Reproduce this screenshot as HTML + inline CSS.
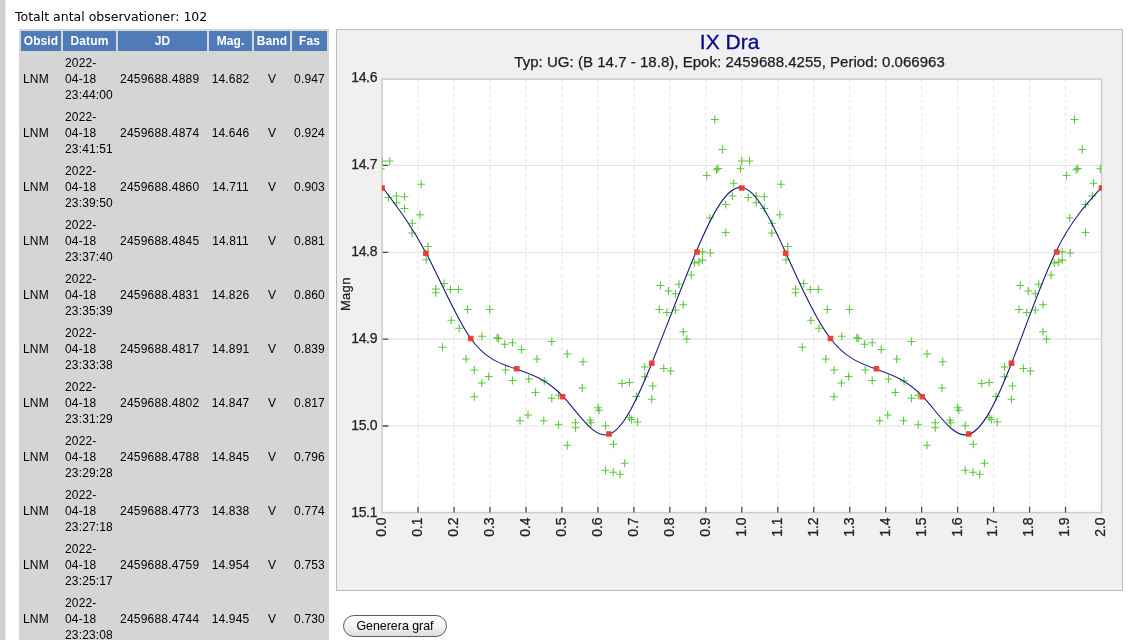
<!DOCTYPE html>
<html lang="sv">
<head>
<meta charset="utf-8">
<title>IX Dra</title>
<style>
html,body{margin:0;padding:0;background:#fff;}
body{width:1136px;height:640px;overflow:hidden;position:relative;font-family:"Liberation Sans",Arial,sans-serif;}
#strip{position:absolute;left:0;top:0;width:6px;height:640px;background:linear-gradient(to right,#d0d0d0 0,#d0d0d0 5px,#e8e8e8 5px,#e8e8e8 6px);}
#tot{position:absolute;left:15px;top:9px;font-family:"DejaVu Sans",Verdana,sans-serif;font-size:12.5px;line-height:15px;color:#000;white-space:nowrap;}
#obs{position:absolute;left:19px;top:29px;width:310px;border-collapse:separate;border-spacing:2px;background:#d5d5d5;table-layout:fixed;font-size:12px;color:#000;}
#obs th{background:#4f7cb8;color:#fff;font-weight:bold;font-size:12px;letter-spacing:0.1px;height:20px;padding:0;line-height:20px;text-align:center;white-space:nowrap;overflow:hidden;}
#obs td{letter-spacing:0.15px;padding:2px 2px 2px 2px;line-height:16px;height:48px;vertical-align:middle;white-space:nowrap;}
#obs td.c{text-align:center;padding:2px 0;}
#obs td.j{letter-spacing:0.22px;}
#chart{position:absolute;left:0;top:0;}
#btn{position:absolute;left:343px;top:615px;width:104px;height:22px;box-sizing:border-box;border:1px solid #5e5e5e;border-radius:11px;background:linear-gradient(#ffffff 0%,#f4f4f4 50%,#dddddd 100%);font-family:"Liberation Sans",Arial,sans-serif;font-size:12.4px;line-height:21px;text-align:center;color:#000;padding:0;margin:0;}
</style>
</head>
<body>
<div id="strip"></div>
<div id="tot">Totalt antal observationer: 102</div>
<table id="obs">
<colgroup><col style="width:40px"><col style="width:53px"><col style="width:89px"><col style="width:43px"><col style="width:36px"><col style="width:35px"></colgroup>
<tr><th>Obsid</th><th>Datum</th><th>JD</th><th>Mag.</th><th>Band</th><th>Fas</th></tr>
<tr><td>LNM</td><td class="d">2022-<br>04-18<br>23:44:00</td><td class="j">2459688.4889</td><td class="c">14.682</td><td class="c">V</td><td class="c">0.947</td></tr>
<tr><td>LNM</td><td class="d">2022-<br>04-18<br>23:41:51</td><td class="j">2459688.4874</td><td class="c">14.646</td><td class="c">V</td><td class="c">0.924</td></tr>
<tr><td>LNM</td><td class="d">2022-<br>04-18<br>23:39:50</td><td class="j">2459688.4860</td><td class="c">14.711</td><td class="c">V</td><td class="c">0.903</td></tr>
<tr><td>LNM</td><td class="d">2022-<br>04-18<br>23:37:40</td><td class="j">2459688.4845</td><td class="c">14.811</td><td class="c">V</td><td class="c">0.881</td></tr>
<tr><td>LNM</td><td class="d">2022-<br>04-18<br>23:35:39</td><td class="j">2459688.4831</td><td class="c">14.826</td><td class="c">V</td><td class="c">0.860</td></tr>
<tr><td>LNM</td><td class="d">2022-<br>04-18<br>23:33:38</td><td class="j">2459688.4817</td><td class="c">14.891</td><td class="c">V</td><td class="c">0.839</td></tr>
<tr><td>LNM</td><td class="d">2022-<br>04-18<br>23:31:29</td><td class="j">2459688.4802</td><td class="c">14.847</td><td class="c">V</td><td class="c">0.817</td></tr>
<tr><td>LNM</td><td class="d">2022-<br>04-18<br>23:29:28</td><td class="j">2459688.4788</td><td class="c">14.845</td><td class="c">V</td><td class="c">0.796</td></tr>
<tr><td>LNM</td><td class="d">2022-<br>04-18<br>23:27:18</td><td class="j">2459688.4773</td><td class="c">14.838</td><td class="c">V</td><td class="c">0.774</td></tr>
<tr><td>LNM</td><td class="d">2022-<br>04-18<br>23:25:17</td><td class="j">2459688.4759</td><td class="c">14.954</td><td class="c">V</td><td class="c">0.753</td></tr>
<tr><td>LNM</td><td class="d">2022-<br>04-18<br>23:23:08</td><td class="j">2459688.4744</td><td class="c">14.945</td><td class="c">V</td><td class="c">0.730</td></tr>
<tr><td>LNM</td><td class="d">2022-<br>04-18<br>23:21:07</td><td class="j">2459688.4730</td><td class="c">14.903</td><td class="c">V</td><td class="c">0.709</td></tr>
<tr><td>LNM</td><td class="d">2022-<br>04-18<br>23:19:06</td><td class="j">2459688.4716</td><td class="c">14.972</td><td class="c">V</td><td class="c">0.688</td></tr>
</table>
<svg id="chart" width="1136" height="640" viewBox="0 0 1136 640" font-family="Liberation Sans, Arial, sans-serif">
<rect x="336.5" y="29.5" width="786" height="561" fill="#f0f0f0" stroke="#bcbcbc"/>
<rect x="382.1" y="79.1" width="719.4" height="433.5" fill="#fff"/>
<path d="M418.07 79.1V512.6M454.04 79.1V512.6M490.01 79.1V512.6M525.98 79.1V512.6M561.95 79.1V512.6M597.92 79.1V512.6M633.89 79.1V512.6M669.86 79.1V512.6M705.83 79.1V512.6M741.8 79.1V512.6M777.77 79.1V512.6M813.74 79.1V512.6M849.71 79.1V512.6M885.68 79.1V512.6M921.65 79.1V512.6M957.62 79.1V512.6M993.59 79.1V512.6M1029.56 79.1V512.6M1065.53 79.1V512.6" stroke="#e7e7e7" stroke-width="1.2" stroke-dasharray="3.9 2.8" fill="none"/>
<path d="M382.1 165.45H1101.5M382.1 252.3H1101.5M382.1 339.15H1101.5M382.1 426H1101.5" stroke="#e2e2e2" stroke-width="1.1" fill="none"/>
<rect x="382.1" y="79.1" width="719.4" height="433.5" fill="none" stroke="#cbcbcb" stroke-width="1.5"/>
<path d="M382.6 165.45h5.7M382.6 252.3h5.7M382.6 339.15h5.7M382.6 426h5.7M418.07 506.7V512.6M454.04 506.7V512.6M490.01 506.7V512.6M525.98 506.7V512.6M561.95 506.7V512.6M597.92 506.7V512.6M633.89 506.7V512.6M669.86 506.7V512.6M705.83 506.7V512.6M741.8 506.7V512.6M777.77 506.7V512.6M813.74 506.7V512.6M849.71 506.7V512.6M885.68 506.7V512.6M921.65 506.7V512.6M957.62 506.7V512.6M993.59 506.7V512.6M1029.56 506.7V512.6M1065.53 506.7V512.6" stroke="#4c4c4c" stroke-width="1.3" fill="none"/>
<clipPath id="cp"><rect x="381.8" y="79.1" width="720" height="433.5"/></clipPath>
<g clip-path="url(#cp)">
<path d="M385.85 161h7.8M389.75 157.1v7.8M745.6 161h7.8M749.5 157.1v7.8M417.35 184.25h7.8M421.25 180.35v7.8M777.1 184.25h7.8M781 180.35v7.8M384.6 197.5h7.8M388.5 193.6v7.8M744.35 197.5h7.8M748.25 193.6v7.8M392.6 196h7.8M396.5 192.1v7.8M752.35 196h7.8M756.25 192.1v7.8M400.6 196.75h7.8M404.5 192.85v7.8M760.35 196.75h7.8M764.25 192.85v7.8M392.6 202.75h7.8M396.5 198.85v7.8M752.35 202.75h7.8M756.25 198.85v7.8M400.6 208.5h7.8M404.5 204.6v7.8M760.35 208.5h7.8M764.25 204.6v7.8M416.1 214.75h7.8M420 210.85v7.8M775.85 214.75h7.8M779.75 210.85v7.8M408.35 223.25h7.8M412.25 219.35v7.8M768.1 223.25h7.8M772 219.35v7.8M408.1 233h7.8M412 229.1v7.8M767.85 233h7.8M771.75 229.1v7.8M710.85 119.5h7.8M714.75 115.6v7.8M1070.6 119.5h7.8M1074.5 115.6v7.8M718.6 149.5h7.8M722.5 145.6v7.8M1078.35 149.5h7.8M1082.25 145.6v7.8M378.1 161h7.8M382 157.1v7.8M737.85 161h7.8M741.75 157.1v7.8M376.85 168.75h7.8M380.75 164.85v7.8M736.6 168.75h7.8M740.5 164.85v7.8M1096.35 168.75h7.8M1100.25 164.85v7.8M712.6 169.75h7.8M716.5 165.85v7.8M1072.35 169.75h7.8M1076.25 165.85v7.8M714.1 168.5h7.8M718 164.6v7.8M1073.85 168.5h7.8M1077.75 164.6v7.8M702.85 175.5h7.8M706.75 171.6v7.8M1062.6 175.5h7.8M1066.5 171.6v7.8M729.85 183.25h7.8M733.75 179.35v7.8M1089.6 183.25h7.8M1093.5 179.35v7.8M728.6 196h7.8M732.5 192.1v7.8M1088.35 196h7.8M1092.25 192.1v7.8M721.85 204.5h7.8M725.75 200.6v7.8M1081.6 204.5h7.8M1085.5 200.6v7.8M706.1 218h7.8M710 214.1v7.8M1065.85 218h7.8M1069.75 214.1v7.8M721.85 232.5h7.8M725.75 228.6v7.8M1081.6 232.5h7.8M1085.5 228.6v7.8M424.1 246.5h7.8M428 242.6v7.8M783.85 246.5h7.8M787.75 242.6v7.8M422.35 259.75h7.8M426.25 255.85v7.8M782.1 259.75h7.8M786 255.85v7.8M440.1 283.5h7.8M444 279.6v7.8M799.85 283.5h7.8M803.75 279.6v7.8M431.85 289h7.8M435.75 285.1v7.8M791.6 289h7.8M795.5 285.1v7.8M431.85 292.75h7.8M435.75 288.85v7.8M791.6 292.75h7.8M795.5 288.85v7.8M446.6 289.5h7.8M450.5 285.6v7.8M806.35 289.5h7.8M810.25 285.6v7.8M454.6 289.5h7.8M458.5 285.6v7.8M814.35 289.5h7.8M818.25 285.6v7.8M463.6 309.5h7.8M467.5 305.6v7.8M823.35 309.5h7.8M827.25 305.6v7.8M485.85 309.5h7.8M489.75 305.6v7.8M845.6 309.5h7.8M849.5 305.6v7.8M447.35 320.25h7.8M451.25 316.35v7.8M807.1 320.25h7.8M811 316.35v7.8M455.35 328.25h7.8M459.25 324.35v7.8M815.1 328.25h7.8M819 324.35v7.8M478.1 336.25h7.8M482 332.35v7.8M837.85 336.25h7.8M841.75 332.35v7.8M493.1 337.75h7.8M497 333.85v7.8M852.85 337.75h7.8M856.75 333.85v7.8M494.6 338.5h7.8M498.5 334.6v7.8M854.35 338.5h7.8M858.25 334.6v7.8M500.85 344.25h7.8M504.75 340.35v7.8M860.6 344.25h7.8M864.5 340.35v7.8M508.6 342.75h7.8M512.5 338.85v7.8M868.35 342.75h7.8M872.25 338.85v7.8M517.6 349.5h7.8M521.5 345.6v7.8M877.35 349.5h7.8M881.25 345.6v7.8M547.85 341.5h7.8M551.75 337.6v7.8M907.6 341.5h7.8M911.5 337.6v7.8M438.6 347.25h7.8M442.5 343.35v7.8M798.35 347.25h7.8M802.25 343.35v7.8M462.1 359h7.8M466 355.1v7.8M821.85 359h7.8M825.75 355.1v7.8M533.1 359h7.8M537 355.1v7.8M892.85 359h7.8M896.75 355.1v7.8M563.35 354h7.8M567.25 350.1v7.8M923.1 354h7.8M927 350.1v7.8M579.1 361.75h7.8M583 357.85v7.8M938.85 361.75h7.8M942.75 357.85v7.8M470.35 370h7.8M474.25 366.1v7.8M830.1 370h7.8M834 366.1v7.8M501.6 370h7.8M505.5 366.1v7.8M861.35 370h7.8M865.25 366.1v7.8M484.85 376.5h7.8M488.75 372.6v7.8M844.6 376.5h7.8M848.5 372.6v7.8M477.85 383h7.8M481.75 379.1v7.8M837.6 383h7.8M841.5 379.1v7.8M508.6 380.5h7.8M512.5 376.6v7.8M868.35 380.5h7.8M872.25 376.6v7.8M524.85 379h7.8M528.75 375.1v7.8M884.6 379h7.8M888.5 375.1v7.8M540.35 380.75h7.8M544.25 376.85v7.8M900.1 380.75h7.8M904 376.85v7.8M470.35 396.75h7.8M474.25 392.85v7.8M830.1 396.75h7.8M834 392.85v7.8M531.6 392.5h7.8M535.5 388.6v7.8M891.35 392.5h7.8M895.25 388.6v7.8M547.85 398.25h7.8M551.75 394.35v7.8M907.6 398.25h7.8M911.5 394.35v7.8M554.6 395.25h7.8M558.5 391.35v7.8M914.35 395.25h7.8M918.25 391.35v7.8M578.35 388h7.8M582.25 384.1v7.8M938.1 388h7.8M942 384.1v7.8M524.1 415h7.8M528 411.1v7.8M883.85 415h7.8M887.75 411.1v7.8M516.1 420.75h7.8M520 416.85v7.8M875.85 420.75h7.8M879.75 416.85v7.8M539.85 420.75h7.8M543.75 416.85v7.8M899.6 420.75h7.8M903.5 416.85v7.8M554.6 424.75h7.8M558.5 420.85v7.8M914.35 424.75h7.8M918.25 420.85v7.8M571.6 422.75h7.8M575.5 418.85v7.8M931.35 422.75h7.8M935.25 418.85v7.8M571.6 427.75h7.8M575.5 423.85v7.8M931.35 427.75h7.8M935.25 423.85v7.8M586.1 420.25h7.8M590 416.35v7.8M945.85 420.25h7.8M949.75 416.35v7.8M587.1 422.75h7.8M591 418.85v7.8M946.85 422.75h7.8M950.75 418.85v7.8M594.1 407.75h7.8M598 403.85v7.8M953.85 407.75h7.8M957.75 403.85v7.8M595.1 410.25h7.8M599 406.35v7.8M954.85 410.25h7.8M958.75 406.35v7.8M601.6 425.75h7.8M605.5 421.85v7.8M961.35 425.75h7.8M965.25 421.85v7.8M563.35 445.25h7.8M567.25 441.35v7.8M923.1 445.25h7.8M927 441.35v7.8M609.6 444.25h7.8M613.5 440.35v7.8M969.35 444.25h7.8M973.25 440.35v7.8M620.85 463.25h7.8M624.75 459.35v7.8M980.6 463.25h7.8M984.5 459.35v7.8M601.6 470.25h7.8M605.5 466.35v7.8M961.35 470.25h7.8M965.25 466.35v7.8M609.35 472.25h7.8M613.25 468.35v7.8M969.1 472.25h7.8M973 468.35v7.8M616.1 474.25h7.8M620 470.35v7.8M975.85 474.25h7.8M979.75 470.35v7.8M618.1 383.5h7.8M622 379.6v7.8M977.85 383.5h7.8M981.75 379.6v7.8M625.5 382.5h7.8M629.4 378.6v7.8M985.25 382.5h7.8M989.15 378.6v7.8M640.85 367h7.8M644.75 363.1v7.8M1000.6 367h7.8M1004.5 363.1v7.8M640.85 376.75h7.8M644.75 372.85v7.8M1000.6 376.75h7.8M1004.5 372.85v7.8M648.85 386h7.8M652.75 382.1v7.8M1008.6 386h7.8M1012.5 382.1v7.8M632.35 396.5h7.8M636.25 392.6v7.8M992.1 396.5h7.8M996 392.6v7.8M647.85 399.25h7.8M651.75 395.35v7.8M1007.6 399.25h7.8M1011.5 395.35v7.8M625.6 417.5h7.8M629.5 413.6v7.8M985.35 417.5h7.8M989.25 413.6v7.8M627.6 419.5h7.8M631.5 415.6v7.8M987.35 419.5h7.8M991.25 415.6v7.8M633.6 422h7.8M637.5 418.1v7.8M993.35 422h7.8M997.25 418.1v7.8M659.85 368.5h7.8M663.75 364.6v7.8M1019.6 368.5h7.8M1023.5 364.6v7.8M666.85 371h7.8M670.75 367.1v7.8M1026.6 371h7.8M1030.5 367.1v7.8M656.6 285.5h7.8M660.5 281.6v7.8M1016.35 285.5h7.8M1020.25 281.6v7.8M675.1 284.25h7.8M679 280.35v7.8M1034.85 284.25h7.8M1038.75 280.35v7.8M664.6 291h7.8M668.5 287.1v7.8M1024.35 291h7.8M1028.25 287.1v7.8M671.6 293.75h7.8M675.5 289.85v7.8M1031.35 293.75h7.8M1035.25 289.85v7.8M679.35 304.75h7.8M683.25 300.85v7.8M1039.1 304.75h7.8M1043 300.85v7.8M655.35 309.5h7.8M659.25 305.6v7.8M1015.1 309.5h7.8M1019 305.6v7.8M663.1 312.5h7.8M667 308.6v7.8M1022.85 312.5h7.8M1026.75 308.6v7.8M671.6 310h7.8M675.5 306.1v7.8M1031.35 310h7.8M1035.25 306.1v7.8M679.35 331.75h7.8M683.25 327.85v7.8M1039.1 331.75h7.8M1043 327.85v7.8M682.85 339h7.8M686.75 335.1v7.8M1042.6 339h7.8M1046.5 335.1v7.8M698.5 251.8h7.8M702.4 247.9v7.8M1058.25 251.8h7.8M1062.15 247.9v7.8M706.5 253h7.8M710.4 249.1v7.8M1066.25 253h7.8M1070.15 249.1v7.8M698.5 260.1h7.8M702.4 256.2v7.8M1058.25 260.1h7.8M1062.15 256.2v7.8M690.6 263h7.8M694.5 259.1v7.8M1050.35 263h7.8M1054.25 259.1v7.8M695 262h7.8M698.9 258.1v7.8M1054.75 262h7.8M1058.65 258.1v7.8M687.35 275h7.8M691.25 271.1v7.8M1047.1 275h7.8M1051 271.1v7.8" stroke="#5fc840" stroke-width="1.15" fill="none"/>
<path d="M382.1 186.86C396.8 206.19 411.5 225.43 426.2 253.18C441.03 281.18 455.86 317.84 470.69 338.5C486.01 359.85 501.34 364.13 516.66 369.15C532.02 374.19 547.39 379.98 562.75 396.22C578.07 412.42 593.39 439.01 608.71 434.48C623.07 430.23 637.44 398.62 651.8 363.29C666.64 326.8 681.47 286.35 696.31 251.38C711.45 215.7 726.59 185.72 741.73 187.43C756.47 189.09 771.21 220.78 785.95 253.18C800.78 285.78 815.61 319.09 830.44 338.5C845.76 358.55 861.09 363.75 876.41 369.15C891.77 374.56 907.14 380.16 922.5 396.22C937.82 412.23 953.14 438.63 968.46 434.48C982.82 430.59 997.19 399.84 1011.55 363.29C1026.39 325.54 1041.22 281.6 1056.06 251.38C1071.21 220.53 1086.35 203.97 1101.5 187.41" stroke="#18187e" stroke-width="1.1" fill="none"/>
<g fill="#e8382e" fill-opacity="0.93"><rect x="379.15" y="185.25" width="5.7" height="5.5"/><rect x="423.05" y="250.5" width="5.7" height="5.5"/><rect x="467.9" y="335.75" width="5.7" height="5.5"/><rect x="513.9" y="366" width="5.7" height="5.5"/><rect x="559.65" y="394" width="5.7" height="5.5"/><rect x="606.15" y="431.25" width="5.7" height="5.5"/><rect x="648.9" y="360.5" width="5.7" height="5.5"/><rect x="694.15" y="249.25" width="5.7" height="5.5"/><rect x="738.9" y="185.25" width="5.7" height="5.5"/><rect x="782.8" y="250.5" width="5.7" height="5.5"/><rect x="827.65" y="335.75" width="5.7" height="5.5"/><rect x="873.65" y="366" width="5.7" height="5.5"/><rect x="919.4" y="394" width="5.7" height="5.5"/><rect x="965.9" y="431.25" width="5.7" height="5.5"/><rect x="1008.65" y="360.5" width="5.7" height="5.5"/><rect x="1053.9" y="249.25" width="5.7" height="5.5"/><rect x="1098.65" y="185.25" width="5.7" height="5.5"/></g>
</g>
<text x="729.6" y="48.7" text-anchor="middle" font-size="21" fill="#08088c" stroke="#08088c" stroke-width="0.3">IX Dra</text>
<text x="729.6" y="67" text-anchor="middle" font-size="15" fill="#1c1c1c" stroke="#1c1c1c" stroke-width="0.25" letter-spacing="0.03">Typ: UG: (B 14.7 - 18.8), Epok: 2459688.4255, Period: 0.066963</text>
<g font-size="14" fill="#222" stroke="#222" stroke-width="0.25" letter-spacing="-0.35"><text x="377.1" y="82.4" text-anchor="end">14.6</text><text x="377.1" y="169.25" text-anchor="end">14.7</text><text x="377.1" y="256.1" text-anchor="end">14.8</text><text x="377.1" y="342.95" text-anchor="end">14.9</text><text x="377.1" y="429.8" text-anchor="end">15.0</text><text x="377.1" y="516.65" text-anchor="end">15.1</text></g>
<g font-size="14" fill="#222" stroke="#222" stroke-width="0.25"><text transform="translate(386 517.4) rotate(-90)" text-anchor="end">0.0</text><text transform="translate(421.97 517.4) rotate(-90)" text-anchor="end">0.1</text><text transform="translate(457.94 517.4) rotate(-90)" text-anchor="end">0.2</text><text transform="translate(493.91 517.4) rotate(-90)" text-anchor="end">0.3</text><text transform="translate(529.88 517.4) rotate(-90)" text-anchor="end">0.4</text><text transform="translate(565.85 517.4) rotate(-90)" text-anchor="end">0.5</text><text transform="translate(601.82 517.4) rotate(-90)" text-anchor="end">0.6</text><text transform="translate(637.79 517.4) rotate(-90)" text-anchor="end">0.7</text><text transform="translate(673.76 517.4) rotate(-90)" text-anchor="end">0.8</text><text transform="translate(709.73 517.4) rotate(-90)" text-anchor="end">0.9</text><text transform="translate(745.7 517.4) rotate(-90)" text-anchor="end">1.0</text><text transform="translate(781.67 517.4) rotate(-90)" text-anchor="end">1.1</text><text transform="translate(817.64 517.4) rotate(-90)" text-anchor="end">1.2</text><text transform="translate(853.61 517.4) rotate(-90)" text-anchor="end">1.3</text><text transform="translate(889.58 517.4) rotate(-90)" text-anchor="end">1.4</text><text transform="translate(925.55 517.4) rotate(-90)" text-anchor="end">1.5</text><text transform="translate(961.52 517.4) rotate(-90)" text-anchor="end">1.6</text><text transform="translate(997.49 517.4) rotate(-90)" text-anchor="end">1.7</text><text transform="translate(1033.46 517.4) rotate(-90)" text-anchor="end">1.8</text><text transform="translate(1069.43 517.4) rotate(-90)" text-anchor="end">1.9</text><text transform="translate(1105.4 517.4) rotate(-90)" text-anchor="end">2.0</text></g>
<text transform="translate(350 294.2) rotate(-90)" text-anchor="middle" font-size="13" letter-spacing="0.3" fill="#222" stroke="#222" stroke-width="0.25">Magn</text>
</svg>
<button id="btn" type="button">Generera graf</button>
</body>
</html>
